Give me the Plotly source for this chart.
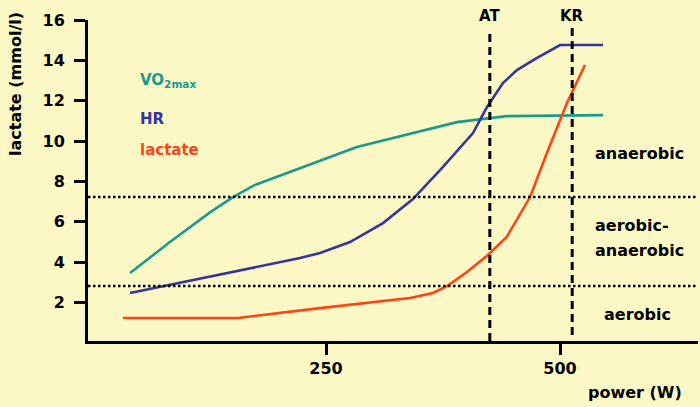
import plotly.graph_objects as go

# ---- data ----
vo2_x = [40.6, 83.3, 126, 150.6, 174, 222, 283, 390, 443, 546]
vo2_y = [3.47, 5.0, 6.47, 7.23, 7.83, 8.67, 9.71, 10.94, 11.24, 11.29]

hr_x = [40.6, 168.8, 222.2, 243.6, 275.6, 310.9, 342.9, 375, 407, 422, 439, 454, 475, 500, 546]
hr_y = [2.48, 3.71, 4.21, 4.46, 5.0, 5.94, 7.13, 8.72, 10.4, 11.69, 12.88, 13.52, 14.11, 14.76, 14.76]

lac_x = [33.1, 156, 243.6, 339.7, 364.3, 379.3, 400.6, 423, 443, 468, 486, 507.5, 526.7]
lac_y = [1.24, 1.24, 1.73, 2.23, 2.48, 2.82, 3.52, 4.36, 5.25, 7.23, 9.41, 11.9, 13.77]

threshold_levels = [2.82, 7.23]          # dotted horizontal lines
markers_x = [425, 513]                   # AT, KR power (W)
markers_y0 = [0.1, 0.4]
markers_y1 = [15.35, 15.6]
marker_labels = ["AT", "KR"]

y_ticks = [2, 4, 6, 8, 10, 12, 14, 16]
x_ticks = [250, 500]

TEAL = "#1b9a8c"
BLUE = "#35359b"
RED = "#ff4414"
BG = "#fbf8c6"
FONT = "DejaVu Sans"

fig = go.Figure()

fig.add_trace(go.Scatter(x=vo2_x, y=vo2_y, mode="lines",
                         line=dict(color=TEAL, width=2.6), cliponaxis=False))
fig.add_trace(go.Scatter(x=hr_x, y=hr_y, mode="lines",
                         line=dict(color=BLUE, width=2.6), cliponaxis=False))
fig.add_trace(go.Scatter(x=lac_x, y=lac_y, mode="lines",
                         line=dict(color=RED, width=2.6), cliponaxis=False))

for lvl in threshold_levels:
    fig.add_shape(type="line", xref="paper", x0=0, x1=1, yref="y", y0=lvl, y1=lvl,
                  line=dict(color="black", width=2.5, dash="2.5px,2.5px"))

for mx, y0, y1, lab in zip(markers_x, markers_y0, markers_y1, marker_labels):
    fig.add_trace(go.Scatter(x=[mx, mx], y=[y0, y1], mode="lines",
                             line=dict(color="black", width=3, dash="8px,5px"),
                             cliponaxis=False))
    fig.add_annotation(x=mx, y=1.012, xref="x", yref="paper", text=lab, showarrow=False,
                       font=dict(family=FONT, size=15, color="black", weight="bold"),
                       xanchor="center", yanchor="middle")

def label(text, x, y, color, size=15, xanchor="left", xref="x", yref="y", angle=0):
    fig.add_annotation(x=x, y=y, xref=xref, yref=yref, text=text, showarrow=False,
                       font=dict(family=FONT, size=size, color=color, weight="bold"),
                       xanchor=xanchor, yanchor="middle", textangle=angle)

label("VO<sub>2max</sub>", 49, 13.0, TEAL, 15)
label("HR", 49, 11.1, BLUE, 15)
label("lactate", 49, 9.56, RED, 15)

label("anaerobic", 535, 9.41, "black", 16)
label("aerobic-", 535, 5.84, "black", 16)
label("anaerobic", 535, 4.6, "black", 16)
label("aerobic", 545, 1.39, "black", 16)

label("lactate (mmol/l)", -0.12, 0.80, "black", 16, xanchor="center",
      xref="paper", yref="paper", angle=-90)
label("power (W)", 0.897, -0.16, "black", 16, xanchor="center",
      xref="paper", yref="paper")

fig.update_layout(
    width=700, height=407,
    margin=dict(l=88, r=2, t=20, b=66, autoexpand=False),
    paper_bgcolor=BG, plot_bgcolor=BG,
    showlegend=False,
    xaxis=dict(range=[-4.3, 647.4], showgrid=False, zeroline=False, automargin=False,
               showline=True, linecolor="black", linewidth=3,
               tickmode="array", tickvals=x_ticks, ticks="outside",
               ticklen=11, tickwidth=3, tickcolor="black",
               tickfont=dict(family=FONT, size=16, color="black", weight="bold")),
    yaxis=dict(range=[0.1, 16], showgrid=False, zeroline=False, automargin=False,
               showline=True, linecolor="black", linewidth=3,
               tickmode="array", tickvals=y_ticks, ticks="outside",
               ticklen=11, tickwidth=3, tickcolor="black", ticklabelstandoff=6,
               tickfont=dict(family=FONT, size=16, color="black", weight="bold")),
)

fig.write_html("out.html", config={"displayModeBar": False},
               post_script="document.body.style.margin='0';document.body.style.padding='0';")
